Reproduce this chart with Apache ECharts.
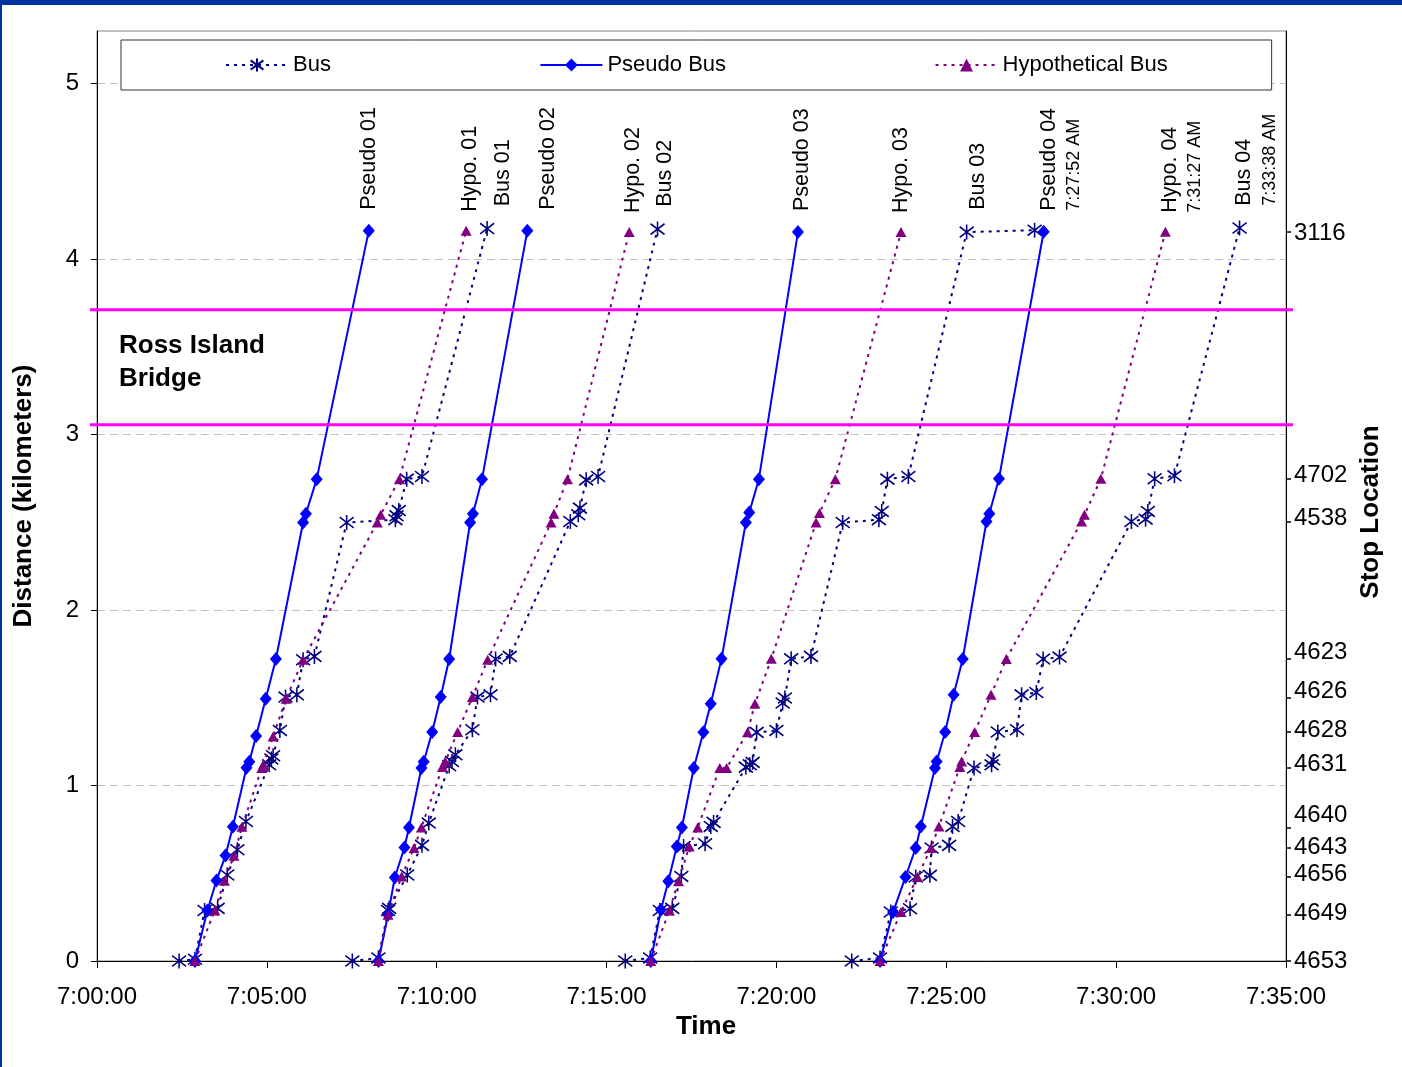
<!DOCTYPE html>
<html>
<head>
<meta charset="utf-8">
<script src="https://cdn.jsdelivr.net/npm/echarts@6/dist/echarts.min.js"></script>
<style>
html,body{margin:0;padding:0;background:#fff;}
#chart{width:1402px;height:1067px;}
</style>
</head>
<body>
<div id="chart"></div>
<script>
// ---------------- DATA ----------------
const seriesNames = ['Bus', 'Pseudo Bus', 'Hypothetical Bus'];
const tripIds = ['01', '02', '03', '04'];
const labelPrefixes = ['Bus', 'Pseudo', 'Hypo.'];

const xTickLabels = ['7:00:00', '7:05:00', '7:10:00', '7:15:00', '7:20:00', '7:25:00', '7:30:00', '7:35:00'];
const yTickValues = [0, 1, 2, 3, 4, 5];
const yTickLabels = ['0', '1', '2', '3', '4', '5'];

// Stop location axis (right)
const stopIds = ['4653', '4649', '4656', '4643', '4640', '4631', '4628', '4626', '4623', '4538', '4702', '3116'];
const stopTickDist = [0, 0.264, 0.48, 0.647, 0.761, 1.10, 1.305, 1.50, 1.72, 2.505, 2.746, 4.154];
const stopLabelDist = [0, 0.27, 0.492, 0.646, 0.828, 1.118, 1.312, 1.534, 1.757, 2.52, 2.765, 4.148];

// Ross Island Bridge band (km)
const bridgeStart = 3.056;
const bridgeEnd = 3.711;

// Bus (observed) trips: [time, distance km]
const bus01 = [['7:02:25',0],['7:02:53',0.01],['7:03:10',0.288],['7:03:33',0.30],['7:03:50',0.49],['7:04:08',0.634],['7:04:23',0.795],['7:05:04',1.118],['7:05:08',1.151],['7:05:11',1.17],['7:05:23',1.314],['7:05:33',1.504],['7:05:53',1.517],['7:06:04',1.717],['7:06:24',1.736],['7:07:21',2.499],['7:08:47',2.515],['7:08:49',2.537],['7:08:53',2.567],['7:09:07',2.746],['7:09:34',2.761],['7:11:29',4.174]];
const bus02 = [['7:07:31',0],['7:08:17',0.017],['7:08:34',0.288],['7:08:36',0.30],['7:09:08',0.49],['7:09:34',0.659],['7:09:46',0.786],['7:10:22',1.113],['7:10:27',1.137],['7:10:33',1.175],['7:11:03',1.318],['7:11:12',1.504],['7:11:35',1.517],['7:11:44',1.721],['7:12:09',1.736],['7:13:56',2.505],['7:14:10',2.543],['7:14:13',2.581],['7:14:24',2.742],['7:14:45',2.761],['7:16:30',4.171]];
const bus03 = [['7:15:33',0],['7:16:17',0.017],['7:16:34',0.288],['7:16:56',0.30],['7:17:12',0.482],['7:17:16',0.653],['7:17:54',0.668],['7:18:04',0.767],['7:18:09',0.79],['7:19:06',1.105],['7:19:13',1.118],['7:19:18',1.132],['7:19:25',1.303],['7:20:00',1.314],['7:20:11',1.47],['7:20:15',1.499],['7:20:26',1.722],['7:21:01',1.736],['7:21:57',2.499],['7:23:01',2.515],['7:23:06',2.562],['7:23:16',2.746],['7:23:53',2.761],['7:25:36',4.154],['7:27:36',4.165]];
const bus04 = [['7:22:13',0],['7:23:03',0.017],['7:23:22',0.279],['7:23:56',0.298],['7:24:06',0.479],['7:24:31',0.488],['7:24:34',0.644],['7:25:05',0.659],['7:25:11',0.767],['7:25:21',0.795],['7:25:49',1.10],['7:26:20',1.118],['7:26:23',1.147],['7:26:31',1.305],['7:27:05',1.318],['7:27:13',1.517],['7:27:39',1.53],['7:27:51',1.721],['7:28:20',1.732],['7:30:27',2.505],['7:30:52',2.518],['7:30:56',2.562],['7:31:08',2.748],['7:31:43',2.765],['7:33:38',4.177]];

// Pseudo bus trips
const pseudo01 = [['7:02:53',0],['7:03:15',0.288],['7:03:31',0.459],['7:03:47',0.601],['7:04:00',0.765],['7:04:24',1.101],['7:04:29',1.135],['7:04:41',1.282],['7:04:58',1.495],['7:05:16',1.721],['7:06:04',2.499],['7:06:09',2.549],['7:06:28',2.746],['7:08:00',4.161]];
const pseudo02 = [['7:08:17',0],['7:08:34',0.264],['7:08:46',0.476],['7:09:03',0.647],['7:09:11',0.761],['7:09:33',1.10],['7:09:37',1.136],['7:09:52',1.305],['7:10:07',1.504],['7:10:22',1.721],['7:10:59',2.499],['7:11:04',2.549],['7:11:20',2.746],['7:12:40',4.161]];
const pseudo03 = [['7:16:18',0],['7:16:36',0.292],['7:16:49',0.454],['7:17:04',0.653],['7:17:13',0.761],['7:17:34',1.10],['7:17:51',1.303],['7:18:04',1.466],['7:18:23',1.722],['7:19:06',2.499],['7:19:12',2.556],['7:19:29',2.746],['7:20:38',4.154]];
const pseudo04 = [['7:23:03',0],['7:23:26',0.279],['7:23:48',0.479],['7:24:06',0.644],['7:24:15',0.767],['7:24:40',1.10],['7:24:43',1.137],['7:24:58',1.305],['7:25:13',1.517],['7:25:29',1.721],['7:26:11',2.505],['7:26:16',2.549],['7:26:33',2.748],['7:27:52',4.156]];

// Hypothetical bus trips
const hypo01 = [['7:02:53',0],['7:03:28',0.288],['7:03:45',0.458],['7:04:02',0.60],['7:04:16',0.765],['7:04:51',1.10],['7:04:54',1.12],['7:05:11',1.28],['7:05:34',1.495],['7:06:04',1.717],['7:08:15',2.499],['7:08:21',2.543],['7:08:54',2.746],['7:10:52',4.161]];
const hypo02 = [['7:08:17',0],['7:08:34',0.264],['7:08:58',0.482],['7:09:20',0.644],['7:09:33',0.761],['7:10:10',1.105],['7:10:15',1.137],['7:10:37',1.305],['7:11:03',1.504],['7:11:30',1.717],['7:13:22',2.499],['7:13:27',2.549],['7:13:51',2.746],['7:15:40',4.154]];
const hypo03 = [['7:16:18',0],['7:16:51',0.288],['7:17:07',0.454],['7:17:26',0.653],['7:17:41',0.761],['7:18:20',1.10],['7:18:32',1.10],['7:19:09',1.303],['7:19:22',1.466],['7:19:51',1.722],['7:21:10',2.499],['7:21:16',2.553],['7:21:44',2.746],['7:23:40',4.154]];
const hypo04 = [['7:23:03',0],['7:23:40',0.279],['7:24:09',0.479],['7:24:33',0.644],['7:24:47',0.767],['7:25:24',1.105],['7:25:27',1.137],['7:25:50',1.305],['7:26:19',1.517],['7:26:46',1.721],['7:28:59',2.505],['7:29:04',2.543],['7:29:33',2.748],['7:31:27',4.156]];

const busTrips = [bus01, bus02, bus03, bus04];
const pseudoTrips = [pseudo01, pseudo02, pseudo03, pseudo04];
const hypoTrips = [hypo01, hypo02, hypo03, hypo04];

// ---------------- STYLE / HELPERS ----------------
const FONT = '"Liberation Sans", Arial, Helvetica, sans-serif';
const toSec = s => { const p = s.split(':').map(Number); return (p[0] - 7) * 3600 + p[1] * 60 + p[2]; };

// sideways pixel nudges of a few end labels (as placed in the original)
const labelNudge = { 'Bus 01': 16, 'Pseudo 02': 21, 'Bus 03': 11, 'Hypo. 01': 4, 'Hypo. 02': 4, 'Pseudo 03': 4, 'Bus 02': 8 };

const asterisk = 'path://M7,0L7,14M1,2L13,12M1,12L13,2';

const styles = {
  'Bus': {
    symbol: asterisk, symbolSize: [14, 15],
    itemStyle: { color: '#000080', borderColor: '#000080', borderWidth: 1.6 },
    lineStyle: { color: '#000080', width: 2, type: [3, 5] }
  },
  'Pseudo Bus': {
    symbol: 'diamond', symbolSize: [12, 14],
    itemStyle: { color: '#0000FF' },
    lineStyle: { color: '#0000FF', width: 2, type: 'solid' }
  },
  'Hypothetical Bus': {
    symbol: 'triangle', symbolSize: [11, 10],
    itemStyle: { color: '#800080' },
    lineStyle: { color: '#800080', width: 2, type: [3, 5] }
  }
};

function buildSeries(name, prefix, trips) {
  return trips.map((trip, i) => {
    // the trip's end label sits on the first point that reaches the end stop
    let labelIdx = trip.findIndex(p => p[1] > 4);
    if (labelIdx < 0) labelIdx = trip.length - 1;
    const isLastTrip = i === trips.length - 1;
    return Object.assign({
      type: 'line',
      name: name,
      showSymbol: true,
      showAllSymbol: true,
      clip: false,
      z: 2 + seriesNames.indexOf(name),
      data: trip.map((p, j) => {
        const item = { value: [toSec(p[0]), p[1]] };
        if (j === labelIdx) {
          const main = prefix + ' ' + tripIds[i];
          const nudge = labelNudge[main] || 0;
          item.label = isLastTrip ? {
            show: true,
            position: 'top',
            distance: 14,
            rotate: 90,
            align: 'left',
            verticalAlign: 'top',
            color: '#000',
            fontFamily: FONT,
            fontSize: 21.5,
            lineHeight: 10,
            formatter: main + '\n{t|' + p[0] + ' AM}',
            rich: { t: { fontSize: 18, lineHeight: 40, fontFamily: FONT, color: '#000' } }
          } : {
            show: true,
            position: 'top',
            distance: 14,
            rotate: 90,
            align: 'left',
            verticalAlign: 'middle',
            offset: [0, nudge],
            color: '#000',
            fontFamily: FONT,
            fontSize: 21.5,
            formatter: main
          };
        }
        return item;
      })
    }, styles[name]);
  });
}

const series = [].concat(
  buildSeries('Bus', labelPrefixes[0], busTrips),
  buildSeries('Pseudo Bus', labelPrefixes[1], pseudoTrips),
  buildSeries('Hypothetical Bus', labelPrefixes[2], hypoTrips)
);

function nearestIndex(arr, v) {
  let best = 0;
  for (let i = 1; i < arr.length; i++) if (Math.abs(arr[i] - v) < Math.abs(arr[best] - v)) best = i;
  return best;
}

// ---------------- CHART ----------------
const chart = echarts.init(document.getElementById('chart'), null, { renderer: 'canvas' });

const option = {
  animation: false,
  backgroundColor: '#ffffff',
  textStyle: { fontFamily: FONT, color: '#000' },
  grid: { left: 97, right: 116, top: 31, bottom: 106, show: true, borderColor: '#808080', borderWidth: 1, backgroundColor: 'transparent' },
  legend: {
    data: seriesNames,
    left: 121, top: 40,
    padding: [14, 104, 14, 104],
    itemGap: 208.5,
    itemWidth: 62,
    itemHeight: 16,
    backgroundColor: '#ffffff',
    borderColor: '#333333',
    borderWidth: 1,
    selectedMode: false,
    textStyle: { fontSize: 22, color: '#000', fontFamily: FONT }
  },
  xAxis: {
    type: 'value', min: 0, max: 2100, interval: 300,
    axisLine: { show: true, lineStyle: { color: '#000', width: 1 } },
    axisTick: { show: true, length: 7, lineStyle: { color: '#000' } },
    axisLabel: { fontSize: 24, color: '#000', margin: 24, fontFamily: FONT,
      formatter: v => xTickLabels[Math.round(v / 300)] },
    splitLine: { show: false },
    name: 'Time', nameLocation: 'middle', nameGap: 51,
    nameTextStyle: { fontSize: 26, fontWeight: 'bold', color: '#000', fontFamily: FONT, padding: [0, 0, 0, 29] }
  },
  yAxis: [{
    type: 'value', min: 0, max: 5.3, interval: 1,
    axisLine: { show: true, lineStyle: { color: '#000', width: 1 } },
    axisTick: { show: true, length: 6, lineStyle: { color: '#000' }, customValues: yTickValues },
    axisLabel: { fontSize: 24, color: '#000', margin: 18, fontFamily: FONT, customValues: yTickValues,
      formatter: v => yTickLabels[nearestIndex(yTickValues, v)] },
    splitLine: { show: true, lineStyle: { color: '#C0C0C0', width: 1, type: [8, 5] } },
    name: 'Distance (kilometers)', nameLocation: 'middle', nameGap: 60,
    nameTextStyle: { fontSize: 26, fontWeight: 'bold', color: '#000', fontFamily: FONT }
  }, {
    type: 'value', min: 0, max: 5.3, position: 'right',
    axisLine: { show: true, lineStyle: { color: '#000', width: 1 } },
    axisTick: { show: true, length: 5, lineStyle: { color: '#000', width: 1.5 }, customValues: stopTickDist },
    axisLabel: { fontSize: 24, color: '#000', margin: 8, fontFamily: FONT, customValues: stopLabelDist,
      formatter: v => stopIds[nearestIndex(stopLabelDist, v)] },
    splitLine: { show: false },
    name: 'Stop Location', nameLocation: 'middle', nameGap: 69,
    nameTextStyle: { fontSize: 26, fontWeight: 'bold', color: '#000', fontFamily: FONT, padding: [0, 32, 0, 0] }
  }],
  graphic: [
    { type: 'rect', id: 'topbar', shape: { x: 0, y: 0, width: 1402, height: 5 }, style: { fill: '#0033A0' }, z: 100 },
    { type: 'rect', id: 'leftbar', shape: { x: 0, y: 0, width: 2, height: 1067 }, style: { fill: '#0033A0' }, z: 100 },
    { type: 'text', id: 'ross', style: { text: 'Ross Island\nBridge', x: 119, y: 362, align: 'left', verticalAlign: 'middle',
      font: 'bold 26px ' + FONT, lineHeight: 33, fill: '#000' }, z: 100 }
  ],
  series: series
};

chart.setOption(option);

// Bridge band lines drawn through the axis scales
const x0 = chart.convertToPixel({ xAxisIndex: 0 }, 0);
const x1 = chart.convertToPixel({ xAxisIndex: 0 }, 2100);
const yS = chart.convertToPixel({ yAxisIndex: 0 }, bridgeStart);
const yE = chart.convertToPixel({ yAxisIndex: 0 }, bridgeEnd);
chart.setOption({
  graphic: [
    { type: 'line', id: 'bridgeA', shape: { x1: x0 - 7, y1: yE, x2: x1 + 7, y2: yE }, style: { stroke: '#FF00FF', lineWidth: 3 }, z: 50 },
    { type: 'line', id: 'bridgeB', shape: { x1: x0 - 7, y1: yS, x2: x1 + 7, y2: yS }, style: { stroke: '#FF00FF', lineWidth: 3 }, z: 50 }
  ]
});
</script>
</body>
</html>
